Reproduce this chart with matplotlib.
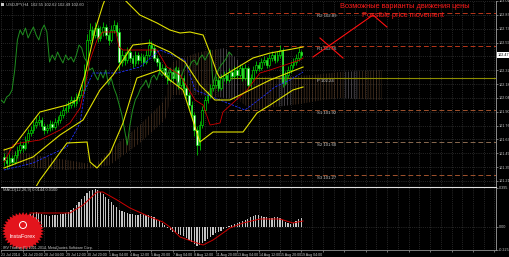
import numpy as np
import matplotlib
matplotlib.use("Agg")
import matplotlib.pyplot as plt
from matplotlib.patches import Polygon, Circle

plt.rcParams['font.family'] = ['Liberation Sans', 'DejaVu Sans']
plt.rcParams['hatch.linewidth'] = 0.4

# ---------------- data: USDJPY H4 candles ----------------
first_open = 101.45
closes = [101.42, 101.39, 101.44, 101.40, 101.47, 101.52, 101.57, 101.54, 101.62, 101.69,
          101.72, 101.77, 101.80, 101.82, 101.76, 101.72, 101.74, 101.78, 101.75, 101.80,
          101.82, 101.87, 101.92, 101.94, 101.97, 102.02, 101.99, 102.05, 102.07, 102.12,
          102.32, 102.62, 102.72, 102.67, 102.74, 102.64, 102.70, 102.75, 102.67, 102.62,
          102.72, 102.77, 102.70, 102.40, 102.47, 102.42, 102.50, 102.44, 102.39, 102.47,
          102.42, 102.45, 102.40, 102.47, 102.57, 102.54, 102.44, 102.40, 102.32, 102.34,
          102.27, 102.22, 102.30, 102.24, 102.32, 102.17, 102.24, 102.14, 102.07, 101.97,
          101.87, 101.72, 101.57, 101.77, 101.92, 102.02, 102.07, 102.14, 102.17, 102.22,
          102.14, 102.24, 102.27, 102.22, 102.30, 102.26, 102.32, 102.27, 102.34, 102.24,
          102.34, 102.17, 102.24, 102.32, 102.37, 102.34, 102.40, 102.42, 102.37, 102.44,
          102.47, 102.42, 102.47, 102.52, 102.19, 102.27, 102.32, 102.37, 102.40, 102.44,
          102.50, 102.47]
highs = [101.49, 101.46, 101.48, 101.47, 101.51, 101.56, 101.61, 101.60, 101.66, 101.73,
         101.76, 101.82, 101.85, 101.87, 101.85, 101.79, 101.78, 101.82, 101.81, 101.84,
         101.86, 101.91, 101.96, 101.99, 102.01, 102.06, 102.05, 102.09, 102.11, 102.18,
         102.38, 102.68, 102.79, 102.76, 102.80, 102.77, 102.76, 102.80, 102.78, 102.70,
         102.77, 102.82, 102.80, 102.74, 102.52, 102.50, 102.55, 102.53, 102.47, 102.51,
         102.50, 102.49, 102.48, 102.52, 102.63, 102.61, 102.57, 102.47, 102.43, 102.38,
         102.37, 102.30, 102.34, 102.33, 102.36, 102.35, 102.28, 102.27, 102.17, 102.10,
         102.01, 101.90, 101.76, 101.81, 101.96, 102.06, 102.11, 102.18, 102.21, 102.26,
         102.25, 102.28, 102.31, 102.30, 102.34, 102.33, 102.36, 102.35, 102.38, 102.37,
         102.38, 102.36, 102.28, 102.36, 102.41, 102.40, 102.44, 102.46, 102.45, 102.48,
         102.51, 102.50, 102.51, 102.57, 102.54, 102.31, 102.36, 102.41, 102.44, 102.48,
         102.54, 102.52]
lows = [101.36, 101.33, 101.36, 101.37, 101.38, 101.44, 101.49, 101.50, 101.52, 101.59,
        101.66, 101.69, 101.74, 101.77, 101.72, 101.68, 101.69, 101.71, 101.72, 101.73,
        101.77, 101.79, 101.84, 101.89, 101.90, 101.94, 101.95, 101.96, 102.01, 102.04,
        102.10, 102.29, 102.58, 102.62, 102.64, 102.60, 102.61, 102.66, 102.63, 102.57,
        102.60, 102.69, 102.66, 102.32, 102.36, 102.37, 102.39, 102.40, 102.34, 102.36,
        102.38, 102.39, 102.36, 102.38, 102.45, 102.50, 102.41, 102.36, 102.28, 102.29,
        102.24, 102.18, 102.20, 102.21, 102.22, 102.13, 102.15, 102.10, 102.03, 101.92,
        101.82, 101.66, 101.47, 101.52, 101.74, 101.89, 101.99, 102.04, 102.11, 102.14,
        102.11, 102.12, 102.21, 102.19, 102.20, 102.23, 102.24, 102.24, 102.25, 102.21,
        102.22, 102.13, 102.15, 102.22, 102.29, 102.31, 102.32, 102.37, 102.34, 102.35,
        102.41, 102.39, 102.40, 102.44, 102.15, 102.17, 102.24, 102.29, 102.34, 102.37,
        102.41, 102.44]

# Bollinger bands (bar index, price)
bb_up_x = [0, 3.4, 13.4, 23.5, 27.2, 30.2, 34.0, 36.9, 38.8, 42.5, 45.1, 50.7, 57.1, 61.9,
           65.7, 69.4, 74.3, 76.9, 79.5, 80.6, 84.3, 92.9, 99.3, 105.6, 111.6]
bb_up = [101.52, 101.55, 101.90, 101.97, 102.02, 102.27, 102.72, 102.97, 103.10, 103.10,
         103.02, 102.87, 102.79, 102.72, 102.69, 102.70, 102.67, 102.49, 102.29, 102.24,
         102.30, 102.44, 102.49, 102.52, 102.55]
bb_mid_x = [0, 10.8, 20.9, 29.5, 35.8, 40.7, 48.1, 54.5, 61.9, 67.5, 73.1, 78.7, 84.3,
            91.8, 99.3, 111.6]
bb_mid = [101.34, 101.45, 101.67, 101.82, 102.12, 102.27, 102.57, 102.59, 102.50, 102.40,
          102.17, 102.02, 102.02, 102.12, 102.22, 102.35]
bb_low_x = [10.8, 13.4, 23.5, 31.0, 32.1, 34.7, 39.6, 44.4, 47.0, 49.6, 58.2, 61.9, 66.8,
            73.1, 78.0, 89.2, 94.4, 99.3, 107.8, 111.6]
bb_low = [101.10, 101.22, 101.59, 101.60, 101.40, 101.34, 101.49, 101.79, 102.02, 102.24,
          102.32, 102.22, 102.12, 101.60, 101.70, 101.70, 101.89, 101.97, 102.12, 102.15]

# Ichimoku
tenkan_x = [0, 3.4, 6.0, 13.4, 20.9, 24.6, 28.4, 29.9, 32.1, 34.7, 36.9, 41.8, 42.9, 44.4,
            51.9, 57.1, 60.8, 65.7, 71.3, 74.3, 76.9, 80.6, 81.7, 85.4, 90.7, 95.5, 99.3,
            110.4, 111.6]
tenkan = [101.40, 101.57, 101.59, 101.62, 101.72, 101.79, 101.94, 102.12, 102.42, 102.62,
          102.70, 102.70, 102.55, 102.52, 102.52, 102.52, 102.35, 102.27, 102.02, 101.97,
          101.77, 101.79, 101.90, 101.99, 102.12, 102.29, 102.32, 102.42, 102.44]
kijun_x = [0, 10.8, 23.5, 28.4, 30.2, 33.2, 42.2, 50.7, 58.2, 67.5, 71.3, 80.6, 89.9, 92.5,
           97.4, 101.1, 106.7, 111.6]
kijun = [101.32, 101.39, 101.55, 101.79, 102.12, 102.29, 102.29, 102.35, 102.52, 102.42,
         102.12, 102.02, 101.92, 101.97, 102.07, 102.15, 102.22, 102.30]
cloud_x = [0, 10.8, 23.5, 34, 39.6, 50.7, 60.1, 62.7, 73.1, 82.5, 87.3, 89.9, 91.8, 110.4,
           119, 125.4, 141]
span_a = [101.54, 101.47, 101.42, 101.37, 101.52, 101.77, 102.02, 102.40, 102.50, 102.54,
          102.42, 102.24, 102.25, 102.26, 102.28, 102.30, 102.32]
span_b = [101.44, 101.34, 101.32, 101.34, 101.37, 101.59, 101.82, 102.07, 102.07, 102.04,
          102.02, 101.97, 101.92, 101.98, 102.02, 102.04, 102.02]
cloud_light_ranges = [(80, 88), (102, 107), (127, 132)]
chikou_shift = 26

# Pivot levels
pivot_names = ["R2", "R1", "P", "S1", "S2", "S3"]
pivot_levels = [102.89, 102.56, 102.24, 101.92, 101.60, 101.27]
pivot_start = 84

# Forecast scenario lines
scen_up_x = [115.3, 137.7, 142.9]
scen_up = [102.45, 102.87, 102.75]
scen_dn_x = [117.9, 126.5]
scen_dn = [102.64, 102.44]

# MACD
macd_start = 10
macd_hist = [0.13, 0.14, 0.15, 0.14, 0.13, 0.12, 0.12, 0.11, 0.12, 0.12,
             0.12, 0.13, 0.13, 0.14, 0.15, 0.17, 0.19, 0.22, 0.25, 0.28,
             0.31, 0.34, 0.36, 0.37, 0.38, 0.37, 0.35, 0.33, 0.30, 0.28,
             0.25, 0.22, 0.20, 0.17, 0.16, 0.15, 0.14, 0.13, 0.13, 0.12,
             0.12, 0.13, 0.13, 0.12, 0.12, 0.11, 0.10, 0.08, 0.06, 0.04,
             0.02, -0.01, -0.03, -0.05, -0.06, -0.07, -0.08, -0.09, -0.11, -0.13,
             -0.15, -0.17, -0.19, -0.18, -0.16, -0.14, -0.12, -0.10, -0.08, -0.06,
             -0.05, -0.04, -0.02, -0.01, 0.01, 0.02, 0.03, 0.04, 0.05, 0.06,
             0.07, 0.08, 0.10, 0.11, 0.12, 0.12, 0.11, 0.10, 0.10, 0.09,
             0.09, 0.10, 0.10, 0.09, 0.07, 0.05, 0.04, 0.03, 0.04, 0.06,
             0.08, 0.09]
sig_x = [9.7, 24.6, 29.5, 34.7, 36.9, 42.2, 47.0, 54.5, 59.3, 61.9, 65.7, 72.0, 74.3, 78.0,
         81.7, 84.3, 89.2, 95.5, 103.0, 107.8, 111.6]
sig = [0.14, 0.14, 0.22, 0.35, 0.35, 0.27, 0.19, 0.10, 0.05, 0.00, -0.10, -0.16, -0.18,
       -0.13, -0.06, -0.01, 0.04, 0.08, 0.08, 0.04, 0.06]

date_labels = ["23 Jul 2014", "24 Jul 20:00", "28 Jul 04:00", "29 Jul 12:00", "30 Jul 20:00",
               "1 Aug 04:00", "4 Aug 12:00", "5 Aug 20:00", "7 Aug 04:00", "8 Aug 12:00",
               "11 Aug 20:00", "13 Aug 04:00", "14 Aug 12:00", "15 Aug 20:00", "19 Aug 04:00"]

# ---------------- figure ----------------
W, H = 510, 257
fig = plt.figure(figsize=(W / 100, H / 100), dpi=100, facecolor='black')


def rect(x0, y0, x1, y1):
    return [x0 / W, 1 - y1 / H, (x1 - x0) / W, (y1 - y0) / H]


ax = fig.add_axes(rect(1, 1, 496, 186))
axm = fig.add_axes(rect(1, 187, 496, 250))
XMIN, XMAX = -1.12, 183.6
GRID = '#565656'
TXT = '#c8c8c8'

for a in (ax, axm):
    a.set_facecolor('black')
    a.set_xlim(XMIN, XMAX)
    for s in ('left', 'top', 'bottom'):
        a.spines[s].set_visible(False)
    a.spines['right'].set_color('#a0a0a0')
    a.spines['right'].set_linewidth(0.6)
    a.yaxis.tick_right()
    a.tick_params(axis='y', labelsize=2.7, colors=TXT, length=1.5, width=0.4, pad=0.6)

ax.set_ylim(101.16, 103.01)
axm.set_ylim(-0.23, 0.40)
axm.spines['top'].set_visible(True)
axm.spines['top'].set_color('#e0e0e0')
axm.spines['top'].set_linewidth(0.8)
axm.spines['bottom'].set_visible(True)
axm.spines['bottom'].set_color('#909090')
axm.spines['bottom'].set_linewidth(0.6)

n = len(closes)
bars = np.arange(n)
date_pos = [-1 + 8 * k for k in range(len(date_labels))]
minor_pos = [3 + 8 * k for k in range(len(date_labels) + 8)]

# grid
for a in (ax, axm):
    a.set_xticks(date_pos + [-1 + 8 * k for k in range(len(date_labels), 24)])
    a.set_xticks(minor_pos, minor=True)
    a.grid(True, which='both', color=GRID, linestyle=(0, (1, 2)), linewidth=0.45)
    a.set_axisbelow(True)
ax.tick_params(axis='x', which='both', labelbottom=False, length=0)
axm.tick_params(axis='x', which='minor', length=0)
axm.set_xticklabels(date_labels + [""] * (24 - len(date_labels)))
axm.tick_params(axis='x', which='major', labelsize=2.6, colors=TXT, length=1.5, width=0.4, pad=0.8)
for lbl in axm.get_xticklabels():
    lbl.set_ha('left')

yt = np.linspace(101.21, 103.01, 14)
ax.set_yticks(yt)
ax.set_yticklabels(["" if abs(v - closes[-1]) < 0.06 else f"{v:.2f}" for v in yt])
axm.set_yticks([0.395, 0.0, -0.225])
axm.set_yticklabels(["0.395", "0.00", "-0.225"])
axm.yaxis.grid(False)
axm.axhline(0, color=GRID, linestyle=(0, (1, 2)), linewidth=0.45)

# cloud
xs = np.arange(0, 141.01, 0.25)
a_s = np.interp(xs, cloud_x, span_a)
b_s = np.interp(xs, cloud_x, span_b)
light = np.zeros_like(xs, dtype=bool)
for lo_, hi_ in cloud_light_ranges:
    light |= (xs >= lo_) & (xs <= hi_)
ax.fill_between(xs, a_s, b_s, where=~light, facecolor='none', edgecolor='#5e4029',
                hatch='||||||', linewidth=0, zorder=1)
ax.fill_between(xs, a_s, b_s, where=light, facecolor='none', edgecolor='#77707a',
                hatch='||||||', linewidth=0, zorder=1)

# pivots
piv_colors = ['#b8361a', '#b8361a', '#8c8c00', '#a0522d', '#8a6a50', '#a0522d']
for name, lvl, col in zip(pivot_names, pivot_levels, piv_colors):
    if name == 'P':
        ax.hlines(lvl, pivot_start, XMAX, color=col, linewidth=0.8, zorder=2)
    else:
        ax.hlines(lvl, pivot_start, XMAX, color=col, linewidth=0.7,
                  linestyle=(0, (5, 3)), zorder=2)
    ax.text(116.8, lvl - 0.012, f"{name} {lvl:.2f}", fontsize=3.1, color=TXT,
            va='top', ha='left', zorder=6)

# candles
o = np.array([first_open] + closes[:-1])
c = np.array(closes)
up = c >= o
bot = np.minimum(o, c)
hgt = np.maximum(np.abs(c - o), 0.006)
ax.vlines(bars, lows, highs, color='#00e800', linewidth=0.5, zorder=3)
ax.bar(bars[up], hgt[up], bottom=bot[up], width=0.6, facecolor='black',
       edgecolor='#00e800', linewidth=0.45, zorder=3)
ax.bar(bars[~up], hgt[~up], bottom=bot[~up], width=0.6, facecolor='#f0fff0',
       edgecolor='#00e800', linewidth=0.45, zorder=3)

# indicator lines
ax.plot(bars - chikou_shift, closes, color='#1f8f1f', linewidth=0.7, zorder=4)
ax.plot(tenkan_x, tenkan, color='#d00000', linewidth=0.6, zorder=4)
ax.plot(kijun_x, kijun, color='#2030ff', linewidth=0.6, linestyle=(0, (3, 1.5)), zorder=4)
for bx, by in ((bb_up_x, bb_up), (bb_mid_x, bb_mid), (bb_low_x, bb_low)):
    ax.plot(bx, by, color='#e0e000', linewidth=0.8, zorder=4)

# scenarios
ax.plot(scen_up_x, scen_up, color='#ff1010', linewidth=0.8, zorder=6)
ax.plot(scen_dn_x, scen_dn, color='#ff1010', linewidth=0.8, zorder=6)

# current price marker
ax.text(1.004, closes[-1], f"{closes[-1]:.2f}", transform=ax.get_yaxis_transform(),
        fontsize=2.7, color='black', va='center', ha='left', clip_on=False,
        bbox=dict(boxstyle='square,pad=0.2', facecolor='white', edgecolor='none'))

# MACD
mx = np.arange(macd_start, macd_start + len(macd_hist))
axm.bar(mx, macd_hist, width=0.45, color='#c4c4c4', zorder=3)
axm.plot(sig_x, sig, color='#d00000', linewidth=0.7, zorder=4)

# overlay texts / logo
ov = fig.add_axes([0, 0, 1, 1], facecolor='none')
ov.set_xlim(0, W)
ov.set_ylim(H, 0)
ov.axis('off')
ov.text(6, 4.5, "USDJPY,H4  102.55 102.62 102.49 102.60", fontsize=3.0, color=TXT, va='center')
ov.add_patch(plt.Rectangle((1.5, 2.5), 3, 3.5, facecolor='#c8c8c8', edgecolor='none'))
ov.text(3, 190.5, "MACD(12,26,9) 0.0144 0.0100", fontsize=2.9, color=TXT, va='center')
ov.text(340, 7, "Возможные варианты движения цены", fontsize=5.3, color='#ff1a1a', va='center')
ov.text(362, 15.5, "Possible price movement", fontsize=5.3, color='#ff1a1a', va='center')

ang = np.linspace(0, 2 * np.pi, 72, endpoint=False)
rad = np.where(np.arange(72) % 2 == 0, 21.0, 18.0)
star = np.column_stack([23 + rad * np.cos(ang), 231 + 0.9 * rad * np.sin(ang)])
ov.add_patch(Polygon(star, closed=True, facecolor='#e3141c', edgecolor='none', zorder=5))
ov.add_patch(Circle((23, 225), 3.5, facecolor='none', edgecolor='white', linewidth=0.7, zorder=6))
ov.text(23, 236.5, "InstaForex", fontsize=4.0, color='white', ha='center', va='center', zorder=6)
ov.text(3, 247.5, "IRV Trading (C) 2001-2014, MetaQuotes Software Corp.", fontsize=2.6,
        color=TXT, va='center', zorder=7)

fig.savefig("out.png", dpi=100, facecolor='black')
